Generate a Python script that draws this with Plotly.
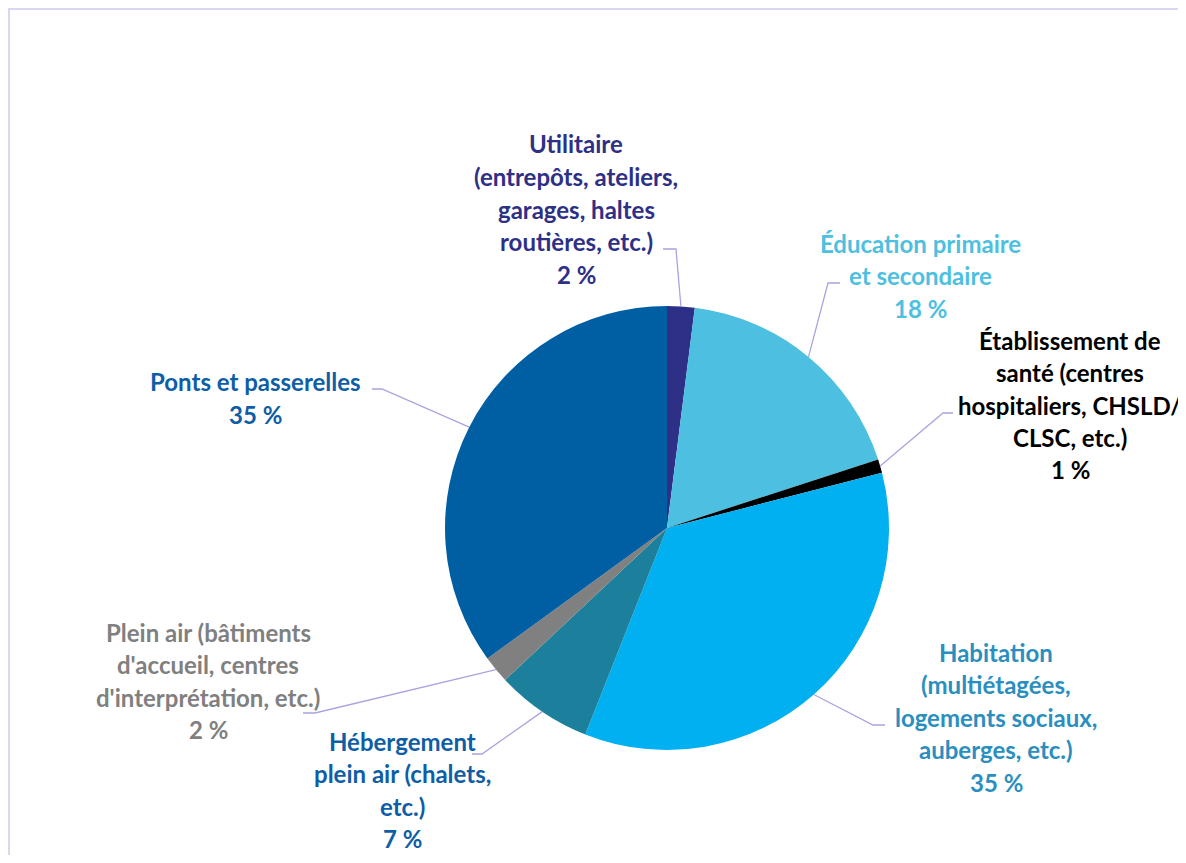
import math
import plotly.graph_objects as go

# ---- data ----
categories = [
    "Utilitaire (entrepôts, ateliers, garages, haltes routières, etc.)",
    "Éducation primaire et secondaire",
    "Établissement de santé (centres hospitaliers, CHSLD, CLSC, etc.)",
    "Habitation (multiétagées, logements sociaux, auberges, etc.)",
    "Hébergement plein air (chalets, etc.)",
    "Plein air (bâtiments d'accueil, centres d'interprétation, etc.)",
    "Ponts et passerelles",
]
values = [2, 18, 1, 35, 7, 2, 35]
label_lines = [
    ["Utilitaire", "(entrepôts, ateliers,", "garages, haltes", "routières, etc.)"],
    ["Éducation primaire", "et secondaire"],
    ["Établissement de", "santé (centres", "hospitaliers, CHSLD/", "CLSC, etc.)"],
    ["Habitation", "(multiétagées,", "logements sociaux,", "auberges, etc.)"],
    ["Hébergement", "plein air (chalets,", "etc.)"],
    ["Plein air (bâtiments", "d'accueil, centres", "d'interprétation, etc.)"],
    ["Ponts et passerelles"],
]
slice_colors = ["#2E3087", "#4DBFE0", "#000000", "#00B0F0", "#1C7F9B", "#808080", "#005FA3"]
text_colors = ["#2E3087", "#4DBFE0", "#000000", "#2A8FBF", "#0E5EA6", "#808080", "#0E5EA6"]

# ---- layout constants (pixels, in reference-image coordinates) ----
OFF = 8                      # page body margin
W, H = 1178, 847             # figure size
CX, CY, R = 667, 528, 222
FONT = "Lato"
FSIZE = 24
LINE_H = 32.5
# first-line centre of each label
label_pos = [(576, 144), (920, 243), (1070, 340), (996, 652), (402, 741), (208, 632), (255, 382)]
# leader line: elbow point and end point
leader = [
    ((676, 249), (663, 249)),
    ((828, 283), (840, 283)),
    ((943, 413), (953, 413)),
    ((873, 725), (885, 725)),
    ((482, 754), (472, 754)),
    ((315, 713), (303, 713)),
    ((382, 389), (372, 389)),
]


def px(x):
    return (x - OFF) / W


def py(y):
    return 1 - (y - OFF) / H


fig = go.Figure()
fig.add_trace(go.Pie(
    labels=categories,
    values=values,
    sort=False,
    direction="clockwise",
    rotation=0,
    marker=dict(colors=slice_colors, line=dict(width=0)),
    textinfo="none",
    hoverinfo="label+percent",
    showlegend=False,
    domain=dict(x=[px(CX - R), px(CX + R)], y=[py(CY + R), py(CY - R)]),
))

annotations = []
shapes = []
total = sum(values)
cum = 0
for i, v in enumerate(values):
    mid = (cum + v / 2) / total * 2 * math.pi
    cum += v
    ex = CX + R * math.sin(mid)
    ey = CY - R * math.cos(mid)
    (bx, by), (tx, ty) = leader[i]
    path = f"M {px(ex)} {py(ey)} L {px(bx)} {py(by)} L {px(tx)} {py(ty)}"
    shapes.append(dict(type="path", path=path, xref="paper", yref="paper",
                       line=dict(color="#A9A4E0", width=1.3)))
    lx, ly = label_pos[i]
    lines = label_lines[i] + [f"{v} %"]
    for k, t in enumerate(lines):
        annotations.append(dict(
            text=f"<b>{t}</b>", x=px(lx), y=py(ly + k * LINE_H),
            xref="paper", yref="paper", showarrow=False,
            xanchor="center", yanchor="middle",
            font=dict(family=FONT, size=FSIZE, color=text_colors[i]),
        ))

# frame
shapes.append(dict(type="rect", xref="paper", yref="paper",
                   x0=px(9), x1=px(1200), y0=py(900), y1=py(9),
                   line=dict(color="#D9D8F2", width=2), layer="below"))

fig.update_layout(
    width=W, height=H,
    margin=dict(l=0, r=0, t=0, b=0),
    paper_bgcolor="white", plot_bgcolor="white",
    annotations=annotations, shapes=shapes,
)
fig.write_html("out.html")
